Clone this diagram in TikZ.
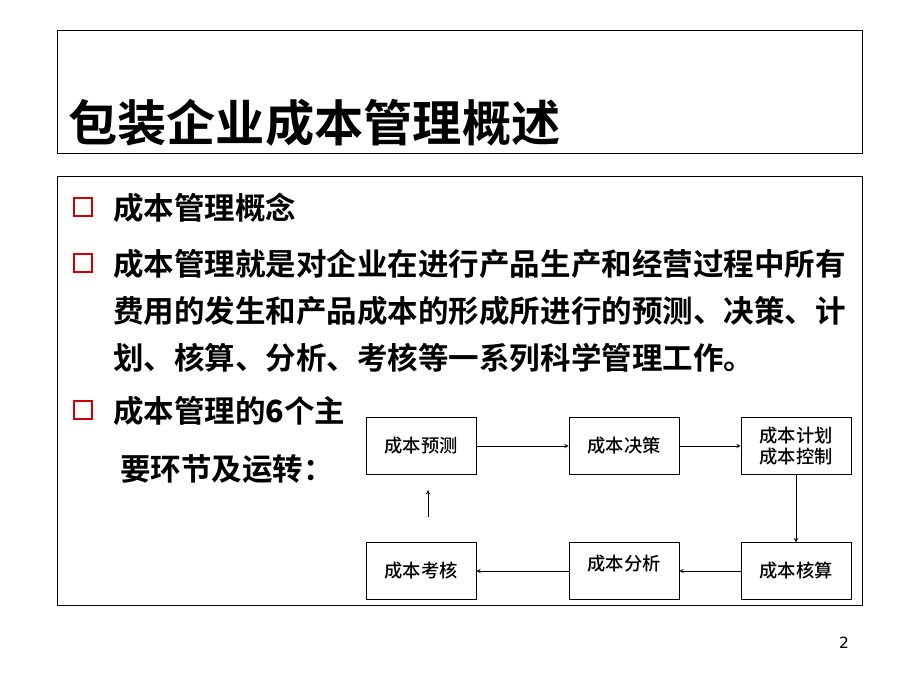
\documentclass[tikz,border=0pt]{standalone}
\usepackage{fontspec}
\setmainfont{DejaVu Sans}
\newfontfamily\cjk{Noto Sans CJK SC Medium}
\newfontfamily\cjkb{Noto Sans CJK SC Bold}
\usetikzlibrary{positioning}
\tikzset{stage/.style={draw,minimum width=2.75cm,minimum height=1.42cm,align=center,font=\cjk\fontsize{13}{15}\selectfont,inner sep=1pt},
	 bullet/.style={draw=red!80!black,line width=2pt,minimum size=0.45cm,inner sep=0pt},
	 txt/.style={anchor=base west,font=\cjkb\fontsize{21.7}{26}\selectfont}
	 }
\begin{document}
\begin{tikzpicture}[x=0.025cm,y=-0.025cm,>=stealth]
	\useasboundingbox (0,0) rectangle (920,690);
	\draw[fill=white] (57,30) rectangle (862,153);
	\draw (57,176) rectangle (862,605);
	\node[anchor=base west,inner sep=0pt,font=\cjkb\fontsize{35}{40}\selectfont] (title) at (68,141) {包装企业成本管理概述};
	% bullets
	\foreach \y in {207,263,410} \node[bullet] at (83,\y) {};
	\node[txt,inner sep=0pt] (t1) at (113,219) {成本管理概念};
	\node[txt,inner sep=0pt] (t2) at (113,275) {成本管理就是对企业在进行产品生产和经营过程中所有};
	\node[txt,inner sep=0pt] (t3) at (113,322) {费用的发生和产品成本的形成所进行的预测、决策、计};
	\node[txt,inner sep=0pt] (t4) at (113,369) {划、核算、分析、考核等一系列科学管理工作。};
	\node[txt,inner sep=0pt] (t5) at (113,422) {成本管理的\textbf{6}个主};
	\node[txt,inner sep=0pt] (t6) at (120,480) {要环节及运转：};
	% flow chart
	\node[stage] (yc) at (421,446) {成本预测};
	\node[stage] (jc) at (624,446) {成本决策};
	\node[stage] (jh) at (796,446) {成本计划\\成本控制};
	\node[stage] (hs) at (796,571) {成本核算};
	\node[stage] (fx) at (624,571) {成本分析\\[-0.2em]\mbox{}};
	\node[stage] (kh) at (421,571) {成本考核};
	\coordinate (up1) at (428,517);
	\coordinate (up2) at (428,490);
	\draw[->] (yc) -- (jc);
	\draw[->] (jc) -- (jh);
	\draw[->] (jh) -- (hs);
	\draw[->] (hs) -- (fx);
	\draw[->] (fx) -- (kh);
	\draw[->] (up1) -- (up2);
	\node[font=\fontsize{11}{13}\selectfont] (pg) at (844,643) {2};
\end{tikzpicture}
\end{document}
